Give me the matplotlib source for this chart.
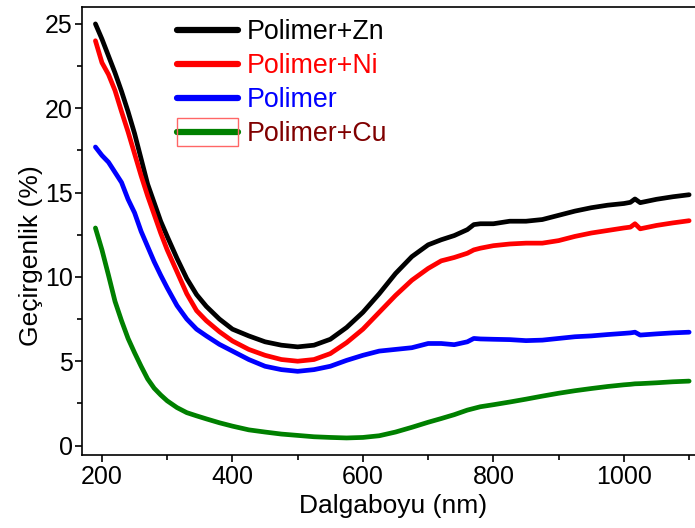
import matplotlib
matplotlib.use("Agg")
import matplotlib.pyplot as plt
from matplotlib.patches import Rectangle
from matplotlib.transforms import IdentityTransform
from matplotlib.ticker import MultipleLocator

plt.rcParams["font.family"] = ["Liberation Sans", "DejaVu Sans"]

# ===== データ=====
wavelength = [190, 200, 210, 220, 230, 240, 250, 260, 270, 280, 290, 300, 315, 330, 345,
              360, 380, 400, 425, 450, 475, 500, 525, 550, 575, 600, 625, 650, 675, 700,
              720, 740, 760, 770, 780, 800, 825, 850, 875, 900, 925, 950, 975, 1000, 1010,
              1017, 1025, 1050, 1075, 1100]

polimer_zn = [25.0, 24.1, 23.1, 22.1, 21.0, 19.8, 18.5, 17.0, 15.5, 14.4, 13.3, 12.4, 11.1, 9.9, 8.95,
              8.25, 7.5, 6.9, 6.5, 6.15, 5.95, 5.85, 5.95, 6.3, 7.0, 7.9, 9.0, 10.2, 11.2, 11.9,
              12.2, 12.45, 12.8, 13.1, 13.15, 13.15, 13.3, 13.3, 13.4, 13.65, 13.9, 14.1, 14.25, 14.35, 14.42,
              14.62, 14.4, 14.6, 14.75, 14.87]

polimer_ni = [24.0, 22.7, 22.0, 21.05, 19.8, 18.6, 17.3, 16.0, 14.8, 13.7, 12.6, 11.6, 10.3, 9.0, 8.0,
              7.4, 6.75, 6.2, 5.7, 5.35, 5.1, 5.0, 5.1, 5.45, 6.1, 6.9, 7.9, 8.9, 9.8, 10.5,
              10.95, 11.15, 11.4, 11.6, 11.7, 11.85, 11.95, 12.0, 12.0, 12.15, 12.4, 12.6, 12.75, 12.9, 12.95,
              13.15, 12.85, 13.05, 13.2, 13.33]

polimer = [17.7, 17.2, 16.8, 16.2, 15.6, 14.6, 13.8, 12.7, 11.8, 10.9, 10.1, 9.35, 8.3, 7.5, 6.9,
           6.5, 6.0, 5.6, 5.1, 4.7, 4.5, 4.4, 4.5, 4.7, 5.05, 5.35, 5.6, 5.7, 5.8, 6.05,
           6.05, 5.98, 6.15, 6.35, 6.32, 6.3, 6.28, 6.22, 6.25, 6.35, 6.45, 6.5, 6.58, 6.65, 6.68,
           6.72, 6.55, 6.62, 6.68, 6.72]

polimer_cu = [12.9, 11.6, 10.1, 8.55, 7.4, 6.35, 5.5, 4.7, 3.95, 3.4, 3.0, 2.65, 2.25, 1.95, 1.76,
              1.58, 1.35, 1.15, 0.93, 0.8, 0.68, 0.6, 0.52, 0.48, 0.45, 0.48, 0.58, 0.8, 1.08, 1.38,
              1.6, 1.83, 2.1, 2.2, 2.3, 2.42, 2.58, 2.75, 2.93, 3.1, 3.25, 3.38, 3.5, 3.6, 3.63,
              3.66, 3.67, 3.72, 3.78, 3.82]

series = [
    ("Polimer+Zn", polimer_zn, "#000000", "#000000"),
    ("Polimer+Ni", polimer_ni, "#ff0000", "#ff0000"),
    ("Polimer", polimer, "#0000ff", "#0000ff"),
    ("Polimer+Cu", polimer_cu, "#008000", "#800000"),
]

# ===== グラフ描画 =====
fig = plt.figure(figsize=(6.95, 5.28), dpi=100)
ax = fig.add_axes([0.1176, 0.1383, 0.8824, 0.8484])

for label, vals, color, _ in series:
    ax.plot(wavelength, vals, color=color, lw=3.4, label=label, solid_capstyle="round")

ax.set_xlim(169, 1109)
ax.set_ylim(-0.56, 26.0)
ax.xaxis.set_major_locator(MultipleLocator(200))
ax.xaxis.set_minor_locator(MultipleLocator(100))
ax.yaxis.set_major_locator(MultipleLocator(5))
ax.yaxis.set_minor_locator(MultipleLocator(2.5))

ax.spines["right"].set_visible(False)
for s in ("left", "bottom", "top"):
    ax.spines[s].set_linewidth(1.2)
ax.tick_params(which="major", direction="out", length=5, width=1.2, labelsize=18)
ax.tick_params(which="minor", direction="out", length=3.5, width=1.2)
ax.tick_params(axis="x", which="major", pad=2.5)
ax.tick_params(axis="y", which="major", pad=1.5)

ax.set_xlabel("Dalgaboyu (nm)", fontsize=19)
ax.set_ylabel("Geçirgenlik (%)", fontsize=19)
ax.xaxis.set_label_coords(0.5076, -0.087)
ax.yaxis.set_label_coords(-0.082, 0.446)
ax.yaxis.label.set_va("center")

leg = ax.legend(loc="upper left", bbox_to_anchor=(0.155, 0.973), frameon=False,
                fontsize=19.3, handlelength=2.3, handletextpad=0.3, labelspacing=0.3,
                borderpad=0, borderaxespad=0,
                labelcolor=[c for _, _, _, c in series])
for h in leg.legend_handles:
    h.set_linewidth(4.5)

# Cu の凡例の周りの赤枠
fig.canvas.draw()
renderer = fig.canvas.get_renderer()
bb = leg.legend_handles[3].get_window_extent(renderer)
yc = 0.5 * (bb.y0 + bb.y1)
fig.add_artist(Rectangle((bb.x0, yc - 14), bb.width, 28, fill=False,
                         edgecolor="#ff6666", lw=1.0, transform=IdentityTransform()))

plt.savefig("out.png", dpi=100)
